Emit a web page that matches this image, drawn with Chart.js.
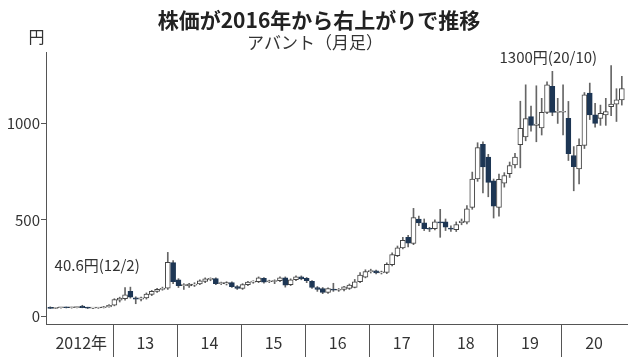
<!DOCTYPE html>
<html><head><meta charset="utf-8">
<script src="https://cdn.jsdelivr.net/npm/chart.js@4.4.1/dist/chart.umd.min.js"></script>
<style>html,body{margin:0;padding:0;background:#fff;}#wrap{width:638px;height:357px;}</style>
</head><body><div id="wrap"><canvas id="c" width="638" height="357"></canvas></div>
<script>
const titleText = '株価が2016年から右上がりで推移';
const subtitleText = 'アバント（月足）';
const unitText = '円';
const years = [2012, 2013, 2014, 2015, 2016, 2017, 2018, 2019, 2020];
const yearLabels = ['2012年', '13', '14', '15', '16', '17', '18', '19', '20'];
const yTicks = [0, 500, 1000];

// monthly candles, one row per year (Jan..Dec)
const open = [
  47, 42, 45, 46, 45, 46, 54, 47, 43, 44, 45, 50,
  58, 85, 92, 130, 96, 90, 96, 114, 130, 140, 146, 279,
  190, 160, 158, 162, 168, 182, 192, 196, 170, 168, 175, 155,
  145, 165, 178, 180, 198, 180, 181, 186, 200, 165, 190, 205,
  198, 182, 150, 145, 125, 142, 136, 140, 145, 151, 180, 203,
  232, 236, 226, 228, 268, 315, 355, 410, 378, 505, 485, 455,
  455, 490, 490, 458, 450, 486, 488, 565, 712, 892, 826, 703,
  565, 690, 740, 785, 890, 930, 1035, 990, 977, 1057, 1192, 1057,
  1058, 1026, 834, 764, 886, 1157, 1044, 1026, 1044, 1087, 1100, 1122
];
const high = [
  50, 47, 48, 49, 48, 50, 58, 48, 46, 47, 52, 62,
  92, 100, 150, 152, 102, 100, 122, 135, 146, 152, 332, 290,
  196, 170, 172, 175, 190, 200, 200, 200, 178, 180, 180, 160,
  170, 182, 185, 205, 202, 188, 190, 205, 205, 195, 210, 210,
  202, 186, 155, 150, 148, 172, 145, 156, 168, 192, 228, 242,
  245, 240, 235, 278, 330, 365, 410, 420, 560, 520, 505, 462,
  500, 555, 505, 470, 490, 505, 575, 748, 900, 905, 840, 712,
  738, 745, 800, 845, 1115, 1200, 1090, 1195, 1130, 1215, 1270, 1130,
  1200, 1114, 880, 920, 1160, 1209, 1104, 1095, 1130, 1300, 1180, 1244
];
const low = [
  41, 40.6, 43, 44, 43, 44, 45, 41, 41, 42, 44, 48,
  55, 75, 85, 95, 66, 80, 90, 108, 125, 136, 140, 170,
  150, 140, 150, 155, 165, 175, 185, 165, 165, 163, 150, 140,
  140, 160, 172, 175, 172, 175, 170, 180, 152, 160, 185, 190,
  175, 145, 130, 118, 120, 130, 130, 133, 140, 148, 175, 200,
  225, 220, 220, 222, 262, 310, 350, 360, 372, 470, 445, 440,
  448, 410, 445, 440, 440, 475, 480, 555, 700, 640, 620, 510,
  520, 670, 720, 770, 770, 910, 960, 905, 940, 1050, 1040, 1000,
  940, 808, 651, 686, 870, 1020, 980, 990, 990, 1040, 1010, 1095
];
const close = [
  42, 45, 46, 45, 46, 47, 45, 43, 44, 45, 50, 58,
  88, 95, 112, 100, 90, 97, 116, 130, 140, 146, 280, 180,
  160, 163, 168, 168, 185, 195, 196, 170, 172, 175, 155, 145,
  165, 178, 181, 200, 178, 183, 186, 200, 162, 190, 205, 195,
  185, 150, 140, 125, 145, 136, 139, 154, 162, 180, 215, 232,
  235, 226, 229, 270, 320, 355, 395, 380, 512, 485, 455, 452,
  490, 485, 462, 452, 476, 494, 558, 712, 875, 775, 695, 572,
  710, 730, 782, 826, 974, 1025, 990, 996, 1057, 1200, 1057, 1060,
  1062, 843, 776, 886, 1148, 1044, 1000, 1052, 1061, 1100, 1122, 1180
];
const lowNote = { index: 1, text: '40.6円(12/2)' };
const highNote = { index: 105, text: '1300円(20/10)' };

const months = [];
years.forEach(y => { for (let m = 1; m <= 12; m++) months.push(y + '/' + m); });
const xPos = i => i + 0.2;
const yearMid = years.map((y, k) => 12 * k + 6);
const yearEdges = years.slice(1).map((y, k) => 12 * (k + 1));
const xTickValues = yearMid.concat(yearEdges).sort((a, b) => a - b);

const NAVY = '#1d3654';
const jp = "'Noto Sans CJK JP', sans-serif";

const textPlugin = {
  id: 'texts',
  afterDraw(chart) {
    const ctx = chart.ctx;
    const xs = chart.scales.x, ys = chart.scales.y;
    ctx.save();
    ctx.fillStyle = '#222';
    ctx.textBaseline = 'middle';
    ctx.textAlign = 'center';
    ctx.font = 'bold 21px ' + jp;
    ctx.fillText(titleText, 319, 20);
    ctx.fillStyle = '#333';
    ctx.font = '17px ' + jp;
    ctx.fillText(subtitleText, 315, 43);
    ctx.font = '16px ' + jp;
    ctx.fillText(unitText, 36.5, 37);
    ctx.font = '15px ' + jp;
    ctx.textAlign = 'left';
    ctx.fillText(lowNote.text, xs.getPixelForValue(xPos(lowNote.index)) - 1, ys.getPixelForValue(low[lowNote.index]) - 43);
    ctx.textAlign = 'right';
    ctx.fillText(highNote.text, xs.getPixelForValue(xPos(highNote.index)) - 14, ys.getPixelForValue(high[highNote.index]) - 8);
    ctx.restore();
  }
};

new Chart(document.getElementById('c'), {
  type: 'bar',
  data: {
    datasets: [
      {
        label: 'body',
        data: months.map((m, i) => ({ x: xPos(i), y: [open[i], close[i]] })),
        backgroundColor: months.map((m, i) => close[i] >= open[i] ? '#ffffff' : NAVY),
        borderColor: months.map((m, i) => close[i] >= open[i] ? '#444' : NAVY),
        borderWidth: 1,
        borderSkipped: false,
        barThickness: 5,
        minBarLength: 1,
        grouped: false
      },
      {
        label: 'wick',
        data: months.map((m, i) => ({ x: xPos(i), y: [low[i], high[i]] })),
        backgroundColor: '#666',
        borderWidth: 0,
        barThickness: 1,
        grouped: false
      }
    ]
  },
  options: {
    responsive: false,
    animation: false,
    layout: { padding: { top: 52, right: 11, left: 0, bottom: 0 } },
    plugins: { legend: { display: false }, tooltip: { enabled: false }, title: { display: false } },
    scales: {
      x: {
        type: 'linear', min: -0.6, max: 108.17, offset: false,
        afterBuildTicks: s => { s.ticks = xTickValues.map(v => ({ value: v })); },
        afterFit: s => { s.height = 33; },
        grid: {
          display: true, offset: false, drawOnChartArea: false, drawTicks: true, tickLength: 33, lineWidth: 1,
          color: c => (c.tick && c.tick.value % 12 === 0) ? '#555' : 'rgba(0,0,0,0)'
        },
        border: { display: true, color: '#555', width: 1 },
        ticks: {
          autoSkip: false, maxRotation: 0, minRotation: 0, padding: -24, color: '#333',
          font: { family: jp, size: 16 },
          callback: v => (v % 12 === 6) ? yearLabels[(v - 6) / 12] : ''
        }
      },
      y: {
        type: 'linear', min: -39, max: 1370,
        afterBuildTicks: s => { s.ticks = yTicks.map(v => ({ value: v })); },
        afterFit: s => { s.width = 46; },
        grid: { display: true, drawOnChartArea: false, tickLength: 5, color: '#555' },
        border: { display: true, color: '#555', width: 1 },
        ticks: { padding: 1, color: '#333', font: { family: jp, size: 15 }, callback: v => String(v) }
      }
    }
  },
  plugins: [textPlugin]
});
</script></body></html>
